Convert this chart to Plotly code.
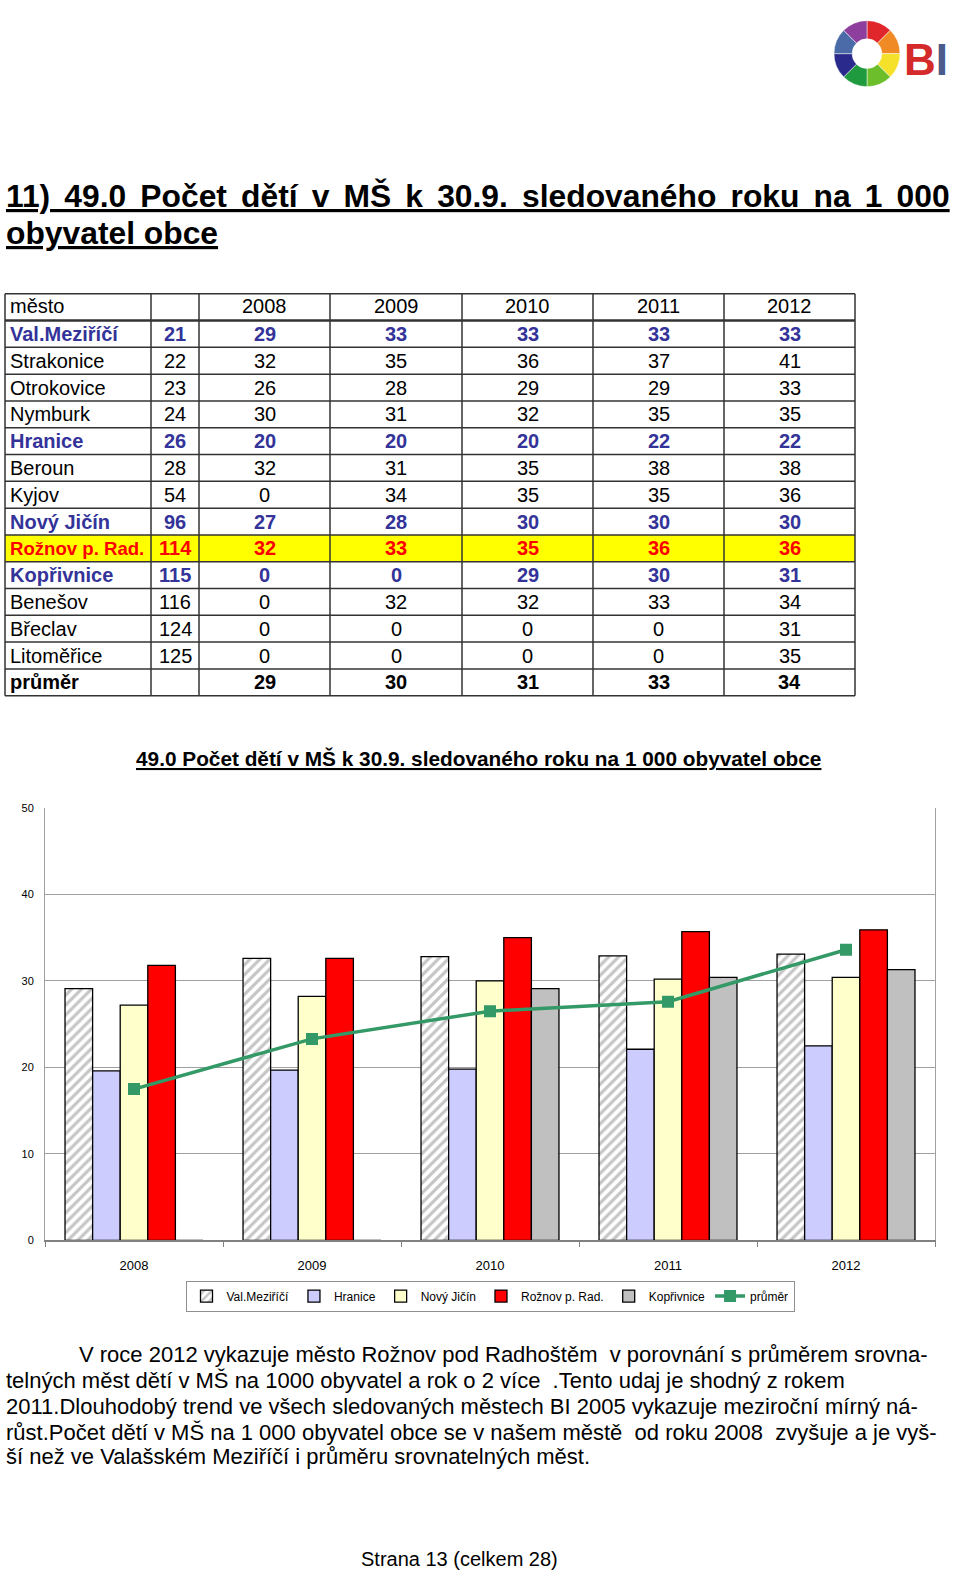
import plotly.graph_objects as go

H = 1571.0
W = 960.0

def fy(px):
    return 1 - px / H

def fx(px):
    return px / W

# ---------------- table data ----------------
cities = ["Val.Meziříčí", "Strakonice", "Otrokovice", "Nymburk", "Hranice", "Beroun", "Kyjov",
          "Nový Jičín", "Rožnov p. Rad.", "Kopřivnice", "Benešov", "Břeclav", "Litoměřice", "průměr"]
codes = ["21", "22", "23", "24", "26", "28", "54", "96", "114", "115", "116", "124", "125", ""]
t2008 = [29, 32, 26, 30, 20, 32, 0, 27, 32, 0, 0, 0, 0, 29]
t2009 = [33, 35, 28, 31, 20, 31, 34, 28, 33, 0, 32, 0, 0, 30]
t2010 = [33, 36, 29, 32, 20, 35, 35, 30, 35, 29, 32, 0, 0, 31]
t2011 = [33, 37, 29, 35, 22, 38, 35, 30, 36, 30, 33, 0, 0, 33]
t2012 = [33, 41, 33, 35, 22, 38, 36, 30, 36, 31, 34, 31, 35, 34]
header = ["město", "", "2008", "2009", "2010", "2011", "2012"]

blue_rows = {"Val.Meziříčí", "Hranice", "Nový Jičín", "Kopřivnice"}
red_rows = {"Rožnov p. Rad."}
bold_rows = {"průměr"}

# ---------------- chart data ----------------
years = ["2008", "2009", "2010", "2011", "2012"]
val_mezirici = [29.1, 32.6, 32.8, 32.9, 33.1]
hranice = [19.6, 19.7, 19.8, 22.1, 22.5]
novy_jicin = [27.2, 28.2, 30.0, 30.2, 30.4]
roznov = [31.8, 32.6, 35.0, 35.7, 35.9]
koprivnice = [0, 0, 29.1, 30.4, 31.3]
prumer = [17.5, 23.3, 26.5, 27.6, 33.6]

chart_title = "49.0 Počet dětí v MŠ k 30.9. sledovaného roku na 1 000 obyvatel obce"
page_title_1 = "11) 49.0 Počet dětí v MŠ k 30.9. sledovaného roku na 1 000"
page_title_2 = "obyvatel obce"
body_lines = [
    "V roce 2012 vykazuje město Rožnov pod Radhoštěm  v porovnání s průměrem srovna-",
    "telných měst dětí v MŠ na 1000 obyvatel a rok o 2 více  .Tento udaj je shodný z rokem",
    "2011.Dlouhodobý trend ve všech sledovaných městech BI 2005 vykazuje meziroční mírný ná-",
    "růst.Počet dětí v MŠ na 1 000 obyvatel obce se v našem městě  od roku 2008  zvyšuje a je vyš-",
    "ší než ve Valašském Meziříčí i průměru srovnatelných měst.",
]
footer = "Strana 13 (celkem 28)"

logo_colors = ["#e0262a", "#f08a24", "#f5e12a", "#6cbf2a", "#1f9a3e", "#2a2a8c", "#4a6aa8", "#8e3f9e"]
logo_values = [1, 1, 1, 1, 1, 1, 1, 1]

FONT = "Arial"

fig = go.Figure()
shapes = []
annotations = []

# ---------------- table (layout geometry) ----------------
col_edges = [5, 151, 199, 330, 462, 593, 724, 855]
row_top = 290
row_h = 27
n_rows = 1 + len(cities)
table_bottom = row_top + row_h * n_rows

def cell_text(text, ci, ri_px, color, bold, size=20):
    t = "<b>" + text + "</b>" if (bold and text) else text
    if ci == 0:
        x, xa = col_edges[0] + 3, "left"
    else:
        x, xa = (col_edges[ci] + col_edges[ci + 1]) / 2, "center"
    annotations.append(dict(text=t, x=fx(x), y=fy(ri_px), xref="paper", yref="paper",
                            xanchor=xa, yanchor="middle", showarrow=False,
                            font=dict(family=FONT, size=size, color=color)))

for ri, name in enumerate(cities):
    if name in red_rows:
        y0 = row_top + row_h * (ri + 1)
        shapes.append(dict(type="rect", xref="paper", yref="paper", x0=fx(col_edges[0]), x1=fx(col_edges[-1]),
                           y0=fy(y0 + row_h), y1=fy(y0), fillcolor="#ffff00", line=dict(width=0), layer="below"))

for ci, h in enumerate(header):
    cell_text(h, ci, row_top + row_h / 2 - 1, "#000000", False)
cols = [cities, codes, t2008, t2009, t2010, t2011, t2012]
for ri, name in enumerate(cities):
    if name in blue_rows:
        color, bold = "#333399", True
    elif name in red_rows:
        color, bold = "#ff0000", True
    elif name in bold_rows:
        color, bold = "#000000", True
    else:
        color, bold = "#000000", False
    yc = row_top + row_h * (ri + 1) + row_h / 2
    for ci, col in enumerate(cols):
        size = 18.6 if (ci == 0 and len(str(col[ri])) > 12) else 20
        cell_text(str(col[ri]), ci, yc, color, bold, size)

for i in range(n_rows + 1):
    yy = row_top + row_h * i
    shapes.append(dict(type="line", xref="paper", yref="paper", x0=fx(col_edges[0]), x1=fx(col_edges[-1]),
                       y0=fy(yy), y1=fy(yy), line=dict(color="#333333", width=2.5 if i == 1 else 1.5)))
for xx in col_edges:
    shapes.append(dict(type="line", xref="paper", yref="paper", x0=fx(xx), x1=fx(xx),
                       y0=fy(row_top), y1=fy(table_bottom), line=dict(color="#333333", width=1.5)))

# ---------------- chart ----------------
bar_line = dict(color="#000000", width=1.3)
fig.add_trace(go.Bar(x=years, y=val_mezirici, name="Val.Meziříčí",
                     marker=dict(color="#ffffff", line=bar_line,
                                 pattern=dict(shape="/", fgcolor="#8c8c8c", bgcolor="#ffffff",
                                              size=7, solidity=0.45))))
fig.add_trace(go.Bar(x=years, y=hranice, name="Hranice",
                     marker=dict(color="#ccccff", line=bar_line)))
fig.add_trace(go.Bar(x=years, y=novy_jicin, name="Nový Jičín",
                     marker=dict(color="#ffffcc", line=bar_line)))
fig.add_trace(go.Bar(x=years, y=roznov, name="Rožnov p. Rad.",
                     marker=dict(color="#ff0000", line=bar_line)))
fig.add_trace(go.Bar(x=years, y=koprivnice, name="Kopřivnice",
                     marker=dict(color="#c0c0c0", line=bar_line)))
fig.add_trace(go.Scatter(x=years, y=prumer, name="průměr", mode="lines+markers",
                         line=dict(color="#339966", width=3.5),
                         marker=dict(symbol="square", size=12, color="#339966")))

# ---------------- logo ----------------
fig.add_trace(go.Pie(values=logo_values, marker=dict(colors=logo_colors, line=dict(color="#ffffff", width=0.5)),
                     hole=0.45, sort=False, direction="clockwise", rotation=0,
                     textinfo="none", hoverinfo="skip", showlegend=False,
                     domain=dict(x=[fx(834), fx(900)], y=[fy(82), fy(14)])))

SP = " \u2006"  # slightly widened word gaps (justified title line)
annotations += [
    dict(text='<b><span style="color:#d42a2a">B</span><span style="color:#4a5a8a">I</span></b>',
         x=fx(902), y=fy(54), xref="paper", yref="paper", xanchor="left", yanchor="middle",
         showarrow=False, font=dict(family="Liberation Sans Narrow, Arial", size=44, color="#d42a2a")),
    dict(text="<b><u>" + page_title_1.replace(" ", SP) + "</u></b>", x=fx(4), y=fy(191), xref="paper", yref="paper",
         xanchor="left", yanchor="middle", showarrow=False,
         font=dict(family=FONT, size=31.8, color="#000000")),
    dict(text="<b><u>" + page_title_2 + "</u></b>", x=fx(4), y=fy(229), xref="paper", yref="paper",
         xanchor="left", yanchor="middle", showarrow=False,
         font=dict(family=FONT, size=31.8, color="#000000")),
    dict(text="<b><u>" + chart_title + "</u></b>", x=fx(478), y=fy(758), xref="paper", yref="paper",
         xanchor="center", yanchor="middle", showarrow=False,
         font=dict(family=FONT, size=20.8, color="#000000")),
    dict(text=footer, x=fx(459), y=fy(1565), xref="paper", yref="paper",
         xanchor="center", yanchor="middle", showarrow=False,
         font=dict(family=FONT, size=20, color="#000000")),
]
line_y = [1359, 1385, 1411, 1437, 1462]
for i, (ln, yy) in enumerate(zip(body_lines, line_y)):
    annotations.append(dict(text=ln, x=fx(77 if i == 0 else 4), y=fy(yy), xref="paper", yref="paper",
                            xanchor="left", yanchor="middle", showarrow=False,
                            font=dict(family=FONT, size=22, color="#000000")))

fig.update_layout(
    width=960, height=1571,
    margin=dict(l=0, r=0, t=0, b=0),
    paper_bgcolor="#ffffff", plot_bgcolor="#ffffff",
    barmode="group", bargap=0.225, bargroupgap=0,
    font=dict(family=FONT, size=12, color="#000000"),
    xaxis=dict(domain=[fx(45), fx(935)], anchor="y", type="category",
               showline=True, linecolor="#808080", linewidth=1.5,
               ticks="outside", tickson="boundaries", ticklen=5, tickcolor="#808080",
               tickfont=dict(size=13), showgrid=False, ticklabelstandoff=12),
    yaxis=dict(domain=[fy(1244), fy(808)], anchor="x", range=[0, 50], dtick=10,
               showgrid=True, gridcolor="#a0a0a0", gridwidth=1,
               showline=True, linecolor="#a0a0a0", linewidth=1, mirror=True,
               ticks="", tickfont=dict(size=11), zeroline=False, ticklabelstandoff=8),
    legend=dict(orientation="h", x=fx(490), y=fy(1300), xanchor="center", yanchor="middle",
                bordercolor="#909090", borderwidth=1, bgcolor="#ffffff",
                font=dict(size=12), itemwidth=30, tracegroupgap=0),
    shapes=shapes,
    annotations=annotations,
)

fig.write_html("out.html")
